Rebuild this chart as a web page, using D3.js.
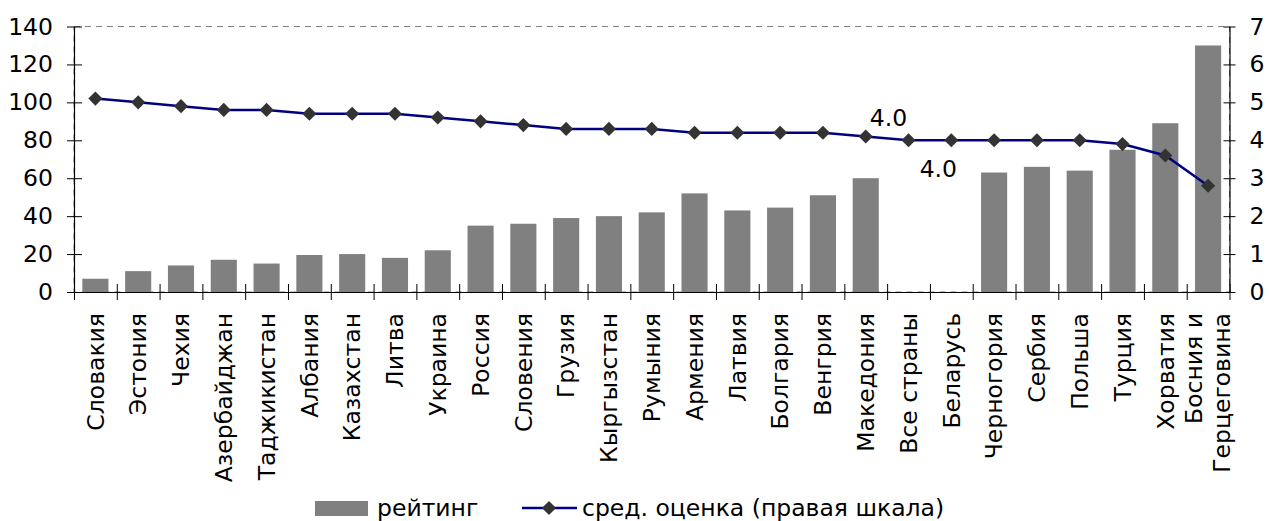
<!DOCTYPE html>
<html>
<head>
<meta charset="utf-8">
<script src="https://cdn.jsdelivr.net/npm/d3@7"></script>
<style>
  body { margin: 0; background: #fff; }
  text { font-family: "DejaVu Sans", Verdana, sans-serif; fill: #000; }
</style>
</head>
<body>
<div id="chart"></div>
<script>
let countries = ["Словакия", "Эстония", "Чехия", "Азербайджан", "Таджикистан", "Албания", "Казахстан",
  "Литва", "Украина", "Россия", "Словения", "Грузия", "Кыргызстан", "Румыния", "Армения", "Латвия",
  "Болгария", "Венгрия", "Македония", "Все страны", "Беларусь", "Черногория", "Сербия", "Польша",
  "Турция", "Хорватия", "Босния и|Герцеговина"];

let rating = [7, 11, 14, 17, 15, 19.5, 20, 18, 22, 35, 36, 39, 40, 42, 52, 43, 44.5, 51, 60,
  null, null, 63, 66, 64, 75, 89, 130];

let avgScore = [5.1, 5.0, 4.9, 4.8, 4.8, 4.7, 4.7, 4.7, 4.6, 4.5, 4.4, 4.3, 4.3, 4.3, 4.2, 4.2,
  4.2, 4.2, 4.1, 4.0, 4.0, 4.0, 4.0, 4.0, 3.9, 3.6, 2.8];

let leftTicks = [0, 20, 40, 60, 80, 100, 120, 140];
let rightTicks = [0, 1, 2, 3, 4, 5, 6, 7];

// data labels shown on the line
let pointLabels = [
  {idx: 19, text: "4.0", dx: -20, dy: -14},
  {idx: 20, text: "4.0", dx: -13, dy: 37}
];

let seriesNames = ["рейтинг", "сред. оценка (правая шкала)"];

let width = 1270,
    height = 521,
    fontSize = 23.5;

let plotLeft = 74, plotRight = 1229.5, plotTop = 26.5, plotBottom = 292;

let svg = d3.select("#chart").append("svg")
  .attr("width", width)
  .attr("height", height);

let x = d3.scaleBand()
  .domain(d3.range(countries.length))
  .range([plotLeft, plotRight])
  .paddingInner(0.39)
  .paddingOuter(0.195);

let xEdge = d3.scaleLinear()
  .domain([0, countries.length])
  .range([plotLeft, plotRight]);

let yLeft = d3.scaleLinear().domain([0, 140]).range([plotBottom, plotTop]);
let yRight = d3.scaleLinear().domain([0, 7]).range([plotBottom, plotTop]);

// plot area border (dashed)
svg.append("rect")
  .attr("x", plotLeft)
  .attr("y", plotTop)
  .attr("width", plotRight - plotLeft)
  .attr("height", plotBottom - plotTop)
  .attr("fill", "none")
  .attr("stroke", "#808080")
  .attr("stroke-dasharray", "6,5");

// bars
svg.append("g")
  .selectAll("rect")
  .data(rating.map((v, i) => ({v, i})).filter(d => d.v != null))
  .enter()
  .append("rect")
  .attr("x", d => x(d.i))
  .attr("y", d => yLeft(d.v))
  .attr("width", x.bandwidth())
  .attr("height", d => plotBottom - yLeft(d.v))
  .attr("fill", "#808080");

// axes
let leftAxis = svg.append("g")
  .attr("transform", `translate(${plotLeft},0)`)
  .call(d3.axisLeft(yLeft).tickValues(leftTicks).tickFormat(d3.format("d")).tickSize(0).tickPadding(21));

let rightAxis = svg.append("g")
  .attr("transform", `translate(${plotRight},0)`)
  .call(d3.axisRight(yRight).tickValues(rightTicks).tickFormat(d3.format("d")).tickSize(0).tickPadding(20));

let bottomAxis = svg.append("g")
  .attr("transform", `translate(0,${plotBottom})`)
  .call(d3.axisBottom(xEdge).tickValues(d3.range(countries.length + 1)).tickFormat("").tickSize(0));

[leftAxis, rightAxis, bottomAxis].forEach(ax => {
  ax.select(".domain").attr("stroke", "#000").attr("stroke-width", 1.2);
  ax.selectAll(".tick text")
    .style("font-size", fontSize + "px")
    .style("font-family", "'DejaVu Sans', Verdana, sans-serif")
    .attr("fill", "#000");
});

leftAxis.selectAll(".tick line").attr("x1", -7).attr("x2", 8).attr("stroke", "#000");
rightAxis.selectAll(".tick line").attr("x1", -6).attr("x2", 6).attr("stroke", "#000");
bottomAxis.selectAll(".tick line").attr("y1", -8).attr("y2", 8).attr("stroke", "#000");

// category labels, rotated
let labels = svg.append("g")
  .selectAll("text")
  .data(countries)
  .enter()
  .append("text")
  .attr("transform", (d, i) => `translate(${x(i) + x.bandwidth() / 2},313) rotate(-90)`)
  .attr("text-anchor", "end")
  .style("font-size", fontSize + "px");

labels.each(function(d) {
  let lines = d.split("|");
  let el = d3.select(this);
  lines.forEach((line, k) => {
    el.append("tspan")
      .attr("x", 0)
      .attr("dy", k == 0 ? (0.35 - (lines.length - 1) * 0.6) + "em" : "1.2em")
      .text(line);
  });
});

// line series
let line = d3.line()
  .x((d, i) => x(i) + x.bandwidth() / 2)
  .y(d => yRight(d));

svg.append("path")
  .datum(avgScore)
  .attr("d", line)
  .attr("fill", "none")
  .attr("stroke", "#000080")
  .attr("stroke-width", 2.5);

let diamond = d3.symbol().type(d3.symbolSquare).size(100);

svg.append("g")
  .selectAll("path")
  .data(avgScore)
  .enter()
  .append("path")
  .attr("d", diamond)
  .attr("transform", (d, i) => `translate(${x(i) + x.bandwidth() / 2},${yRight(d)}) rotate(45)`)
  .attr("fill", "#333333");

svg.append("g")
  .selectAll("text")
  .data(pointLabels)
  .enter()
  .append("text")
  .attr("x", d => x(d.idx) + x.bandwidth() / 2 + d.dx)
  .attr("y", d => yRight(avgScore[d.idx]) + d.dy)
  .attr("text-anchor", "middle")
  .style("font-size", fontSize + "px")
  .text(d => d.text);

// legend
let legend = svg.append("g");

legend.append("rect")
  .attr("x", 315).attr("y", 501)
  .attr("width", 53).attr("height", 15)
  .attr("fill", "#808080");

legend.append("text")
  .attr("x", 377).attr("y", 516)
  .style("font-size", fontSize + "px")
  .text(seriesNames[0]);

legend.append("line")
  .attr("x1", 522).attr("x2", 577)
  .attr("y1", 508).attr("y2", 508)
  .attr("stroke", "#000080")
  .attr("stroke-width", 2.5);

legend.append("path")
  .attr("d", diamond)
  .attr("transform", "translate(549,508) rotate(45)")
  .attr("fill", "#333333");

legend.append("text")
  .attr("x", 582).attr("y", 516)
  .style("font-size", fontSize + "px")
  .text(seriesNames[1]);
</script>
</body>
</html>
